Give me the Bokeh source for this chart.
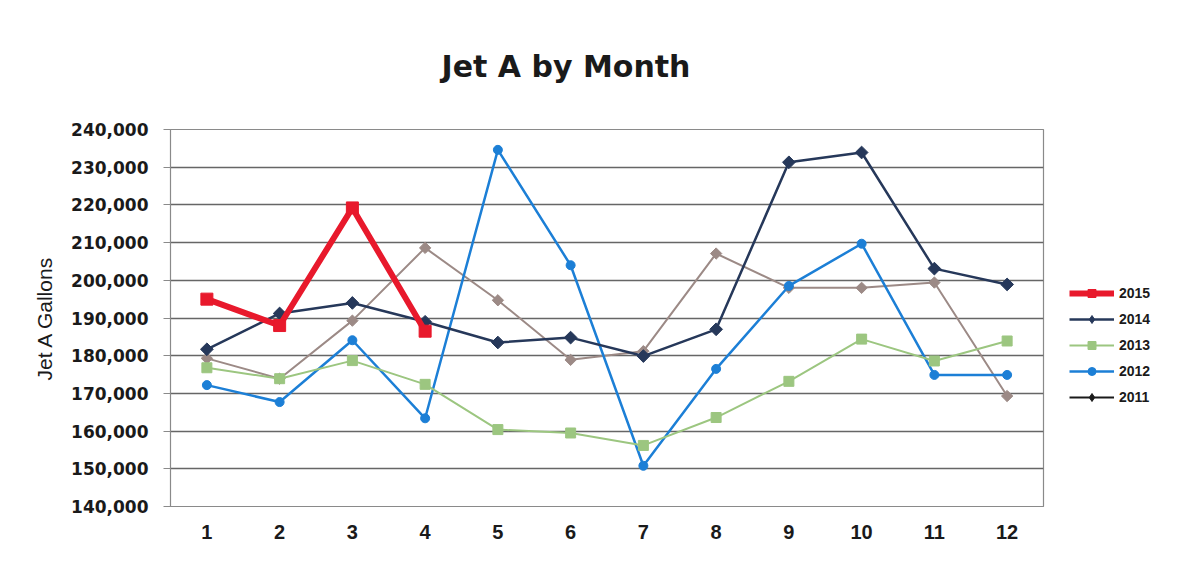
import math
from bokeh.plotting import figure
from bokeh.models import FixedTicker, NumeralTickFormatter, Legend, LegendItem, Range1d, Title
from bokeh.embed import file_html
from bokeh.resources import INLINE

months = [1, 2, 3, 4, 5, 6, 7, 8, 9, 10, 11, 12]
y2015 = [195000, 188000, 219200, 186500]
y2014 = [181700, 191200, 194000, 189000, 183500, 184800, 179900, 187000, 231300, 233900, 203100, 198900]
y2013 = [176800, 173900, 178700, 172400, 160400, 159500, 156200, 163600, 173200, 184400, 178600, 183900]
y2012 = [172200, 167700, 184100, 163400, 234600, 204000, 150800, 176500, 198500, 209700, 174900, 174900]
y2011 = [179300, 173900, 189300, 208600, 194700, 178900, 181200, 207100, 198000, 198000, 199400, 169300]
y_ticks = list(range(140000, 240001, 10000))

p = figure(frame_width=873, frame_height=377, output_backend="svg", toolbar_location=None,
           x_range=Range1d(0.5, 12.5), y_range=Range1d(140000, 240000),
           min_border_left=170, min_border_right=148, min_border_top=128, min_border_bottom=71)
p.background_fill_color = "white"
p.border_fill_color = "white"
p.outline_line_color = "#8a8a8a"
p.outline_line_width = 1.2

t = Title(text="Jet A by Month", align="left", text_font="DejaVu Sans",
          text_font_size="30px", text_font_style="bold", text_color="#1a1a1a",
          standoff=92, offset=271)
p.add_layout(t, "above")

p.xgrid.visible = False
p.ygrid.grid_line_color = "#666666"
p.ygrid.grid_line_width = 1.6

p.yaxis.ticker = FixedTicker(ticks=y_ticks)
p.yaxis.formatter = NumeralTickFormatter(format="0,0")
p.yaxis.major_label_text_font = "DejaVu Sans"
p.yaxis.major_label_text_font_size = "17px"
p.yaxis.major_label_text_font_style = "bold"
p.yaxis.major_label_text_color = "#1a1a1a"
p.yaxis.major_tick_out = 7
p.yaxis.major_tick_in = 0
p.yaxis.minor_tick_line_color = None
p.yaxis.axis_line_color = "#8a8a8a"
p.yaxis.major_tick_line_color = "#8a8a8a"
p.yaxis.major_label_standoff = 15
p.yaxis.axis_label = "Jet A Gallons"
p.yaxis.axis_label_text_font = "Liberation Sans"
p.yaxis.axis_label_text_font_size = "21px"
p.yaxis.axis_label_text_font_style = "normal"
p.yaxis.axis_label_text_color = "#1a1a1a"
p.yaxis.axis_label_standoff = 12

p.xaxis.ticker = FixedTicker(ticks=months)
p.xaxis.major_label_text_font = "Liberation Sans"
p.xaxis.major_label_text_font_size = "20px"
p.xaxis.major_label_text_font_style = "bold"
p.xaxis.major_label_text_color = "#1a1a1a"
p.xaxis.major_tick_line_color = None
p.xaxis.minor_tick_line_color = None
p.xaxis.axis_line_color = "#8a8a8a"
p.xaxis.major_label_standoff = 12

rot = math.pi / 4

# series (bottom to top)
c2011 = "#9c8a86"
l11 = p.line(months, y2011, line_color=c2011, line_width=2)
p.scatter(months, y2011, marker="square", angle=rot, size=8, fill_color=c2011, line_color=c2011)

c2012 = "#1c7fd6"
l12 = p.line(months, y2012, line_color=c2012, line_width=2.5)
s12 = p.scatter(months, y2012, marker="circle", size=9, fill_color=c2012, line_color=c2012)

c2013 = "#9cc680"
l13 = p.line(months, y2013, line_color=c2013, line_width=2)
s13 = p.scatter(months, y2013, marker="square", size=10, fill_color=c2013, line_color=c2013)

c2014 = "#26385a"
l14 = p.line(months, y2014, line_color=c2014, line_width=2.5)
s14 = p.scatter(months, y2014, marker="square", angle=rot, size=9, fill_color=c2014, line_color=c2014)

c2015 = "#e8192c"
l15 = p.line(months[:4], y2015, line_color=c2015, line_width=6)
s15 = p.scatter(months[:4], y2015, marker="square", size=12, fill_color=c2015, line_color=c2015)

# legend proxies (diamond swatches; 2011 swatch is black in the reference); kept off-range
d14s = p.scatter([0], [0], marker="diamond", size=12, fill_color=c2014, line_color=c2014)
d11l = p.line([0, 0], [0, 0], line_color="#1a1a1a", line_width=2)
d11s = p.scatter([0], [0], marker="diamond", size=11, fill_color="#1a1a1a", line_color="#1a1a1a")

legend = Legend(items=[
    LegendItem(label="2015", renderers=[l15, s15]),
    LegendItem(label="2014", renderers=[l14, d14s]),
    LegendItem(label="2013", renderers=[l13, s13]),
    LegendItem(label="2012", renderers=[l12, s12]),
    LegendItem(label="2011", renderers=[d11l, d11s]),
], location="top_left")
legend.title = " "
legend.title_text_font_size = "1px"
legend.title_standoff = 127
legend.label_text_font = "Liberation Sans"
legend.label_text_font_size = "14px"
legend.label_text_font_style = "bold"
legend.label_text_color = "#1a1a1a"
legend.glyph_width = 45
legend.glyph_height = 20
legend.spacing = 6
legend.padding = 5
legend.margin = 26
legend.label_standoff = 5
legend.border_line_color = None
legend.background_fill_alpha = 0
p.add_layout(legend, "right")

open("out.html", "w").write(file_html(p, INLINE))
